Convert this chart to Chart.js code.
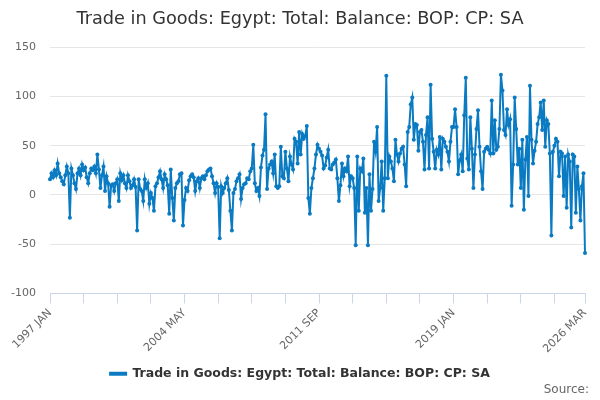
<!DOCTYPE html>
<html>
<head>
<meta charset="utf-8">
<script src="https://cdn.jsdelivr.net/npm/chart.js@4.4.0/dist/chart.umd.min.js"></script>
<style>
  html, body { margin: 0; padding: 0; background: #fff; }
  #wrap { width: 600px; height: 400px; }
</style>
</head>
<body>
<div id="wrap"><canvas id="tradeChart"></canvas></div>
<script>
// Monthly series, 1997 JAN .. 2026 MAR
const startYear = 1997;
const monthNames = ['JAN', 'FEB', 'MAR', 'APR', 'MAY', 'JUN', 'JUL', 'AUG', 'SEP', 'OCT', 'NOV', 'DEC'];

const balance = [
  16, 22, 18, 25, 20, 32, 22, 18, 14, 11, 20, 29, 22, -23, 27, 20, 12, 6, 22, 27,
  20, 31, 25, 28, 18, 12, 22, 27, 25, 29, 22, 41, 26, 7, 20, 29, 4, 19, 12, -12,
  10, 11, 4, 12, 16, -6, 22, 15, 20, 12, 7, 20, 14, 7, 10, 16, 8, -36, 16, 6,
  4, -6, 16, 7, 12, -9, 2, -3, -16, 9, 12, 18, 24, 16, 7, 21, 16, 10, -19, 26,
  -3, -26, 7, 12, 14, 21, 22, -31, -5, 7, 4, 15, 19, 21, 18, 4, 14, 17, 7, 17,
  19, 16, 20, 24, 26, 27, 19, 12, 2, 12, 8, -44, 9, 2, 7, 12, 17, 5, -16, -36,
  2, 6, 14, 17, 21, -4, 7, 11, 12, 17, 16, 24, 27, 51, 12, 4, 7, -1, 28, 40,
  46, 82, 6, 27, 31, 34, 22, 41, 9, 7, 9, 49, 19, 17, 44, 27, 14, 39, 31, 26,
  57, 54, 32, 64, 41, 62, 57, 60, 70, -3, -19, 7, 17, 27, 41, 51, 47, 44, 40, 27,
  30, 38, 46, 27, 26, 31, 33, 36, 17, -6, 10, 32, 19, 27, 24, 39, 9, 19, 17, 7,
  -51, 39, -16, 27, 24, 37, -18, 7, -51, 21, -16, 6, 54, 44, 69, -6, 7, 34, -16, 17,
  121, 17, 39, 34, 27, 14, 56, 41, 34, 42, 47, 49, 31, 9, 64, 69, 92, 99, 56, 72,
  71, 45, 64, 66, 54, 26, 61, 79, 27, 112, 57, 44, 27, 46, 41, 59, 26, 57, 54, 49,
  44, 34, 54, 69, 69, 87, 69, 21, 35, 41, 24, 81, 119, 37, 26, 79, 47, 7, 41, 67,
  86, 49, 24, 6, 44, 47, 49, 46, 42, 96, 42, 76, 46, 49, 67, 122, 106, 66, 61, 87,
  71, 77, -11, 31, 99, 67, 31, 47, 7, 56, -15, 36, 59, -1, 111, 56, 32, 45, 54, 72,
  79, 94, 66, 96, 49, 76, 72, 42, -41, 44, 50, 57, 54, 19, 44, 42, -1, 39, -13, 41,
  34, -33, 41, 39, -18, 29, 6, -26, 9, 22, -59
];

const tickLabels = ['1997 JAN', '2004 MAY', '2011 SEP', '2019 JAN', '2026 MAR'];
const yMin = -100;
const yMax = 150;
const yStep = 50;

const months = balance.map((_, i) => `${startYear + Math.floor(i / 12)} ${monthNames[i % 12]}`);
const lineColor = '#0a7bc2';
const lastIdx = months.length - 1;

// "Source:" credit line, bottom right
const sourceNote = {
  id: 'sourceNote',
  afterDraw(chart) {
    const { ctx } = chart;
    ctx.save();
    ctx.font = '12px "DejaVu Sans"';
    ctx.fillStyle = '#666';
    ctx.textAlign = 'right';
    ctx.textBaseline = 'middle';
    ctx.fillText('Source:', chart.width - 11, 390);
    ctx.restore();
  }
};

new Chart(document.getElementById('tradeChart'), {
  type: 'line',
  data: {
    labels: months,
    datasets: [{
      label: 'Trade in Goods: Egypt: Total: Balance: BOP: CP: SA',
      data: balance,
      borderColor: lineColor,
      backgroundColor: lineColor,
      borderWidth: 2,
      pointRadius: 2,
      pointBorderWidth: 0,
      pointBackgroundColor: lineColor,
      tension: 0
    }]
  },
  plugins: [sourceNote],
  options: {
    responsive: true,
    maintainAspectRatio: false,
    animation: false,
    layout: { padding: { left: 0, right: 0, top: 0, bottom: 10 } },
    plugins: {
      title: {
        display: true,
        text: 'Trade in Goods: Egypt: Total: Balance: BOP: CP: SA',
        color: '#333',
        font: { family: 'DejaVu Sans', size: 17.7, weight: 'normal' },
        padding: { top: 9, bottom: 17 }
      },
      legend: {
        position: 'bottom',
        labels: {
          color: '#333',
          font: { family: 'DejaVu Sans', size: 12.5, weight: 'bold' },
          boxWidth: 16,
          boxHeight: 2,
          padding: 4
        }
      },
      tooltip: { enabled: false }
    },
    scales: {
      x: {
        grid: { drawOnChartArea: false, drawTicks: true, tickLength: 10, color: '#ccd6eb' },
        border: { display: true, color: '#ccd6eb' },
        afterBuildTicks(scale) {
          scale.ticks = scale.ticks.filter(t => t.value % 22 === 0 || t.value === lastIdx);
        },
        afterFit(scale) { scale.height = 70; },
        ticks: {
          autoSkip: false,
          minRotation: 45,
          maxRotation: 45,
          color: '#666',
          font: { family: 'DejaVu Sans', size: 11 },
          callback(value) {
            const lab = months[value];
            return tickLabels.includes(lab) ? lab : '';
          }
        }
      },
      y: {
        min: yMin,
        max: yMax,
        grid: { color: '#e6e6e6', drawTicks: false },
        border: { display: false },
        afterFit(scale) { scale.width = 50; },
        ticks: {
          stepSize: yStep,
          padding: 14,
          color: '#666',
          font: { family: 'DejaVu Sans', size: 11 }
        }
      },
      // empty right gutter so the plot ends where the reference's does
      gutter: {
        type: 'linear',
        position: 'right',
        min: yMin,
        max: yMax,
        grid: { drawOnChartArea: false, drawTicks: false },
        border: { display: false },
        ticks: { display: false },
        afterFit(scale) { scale.width = 15; }
      }
    }
  }
});
</script>
</body>
</html>
